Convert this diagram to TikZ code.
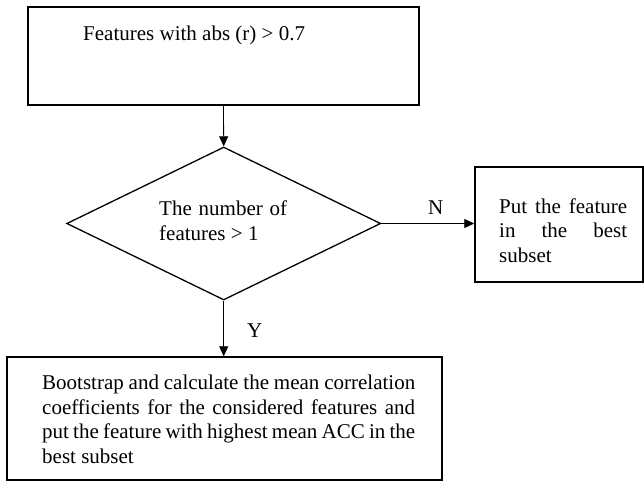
\documentclass[tikz,border=0pt]{standalone}
\usepackage{fontspec}
\setmainfont{Liberation Serif}
\usetikzlibrary{arrows.meta,shapes.geometric}
\tikzset{
  boxshape/.style={draw,line width=1.4pt,inner sep=0pt},
  decshape/.style={draw,diamond,line width=1.3pt,inner sep=0pt},
  txt/.style={inner sep=0pt,align=left,font=\fontsize{21}{24.5}\selectfont},
  arr/.style={draw,line width=0.8pt,-{Triangle[length=10pt,width=9pt]}}
}
\begin{document}
\begin{tikzpicture}[x=1pt,y=-1pt]
\useasboundingbox (0,0) rectangle (644,481);
\node[boxshape,minimum width=391pt,minimum height=98pt] (top) at (223.5,56) {};
\node[txt,anchor=base west] (toptxt) at (83,41) {Features with abs (r) > 0.7};
\node[decshape,minimum width=314pt,minimum height=153pt] (dec) at (223.7,223.5) {};
\node[txt,anchor=base west,font=\fontsize{21}{25}\selectfont] (dectxt) at (159,240) {\makebox[128pt][s]{The number of}\\features > 1};
\node[boxshape,minimum width=168pt,minimum height=115pt] (right) at (559,224.5) {};
\node[txt,anchor=base west] (righttxt) at (499,262) {\makebox[128pt][s]{Put the feature}\\\makebox[128pt][s]{in the best}\\subset};
\node[boxshape,minimum width=435pt,minimum height=123pt] (bot) at (224.5,418.5) {};
\node[txt,anchor=base west] (bottxt) at (42,463) {\makebox[373pt][s]{Bootstrap and calculate the mean correlation}\\\makebox[373pt][s]{coefficients for the considered features and}\\\makebox[373pt][s]{put the feature with highest mean ACC in the}\\best subset};
\node[txt,anchor=base west] (nlab) at (428,214) {N};
\node[txt,anchor=base west] (ylab) at (247,337) {Y};
\draw[arr] (top.south) -- (dec.north);
\draw[arr] (dec.east) -- (dec.east -| right.west);
\draw[arr] (dec.south) -- (dec.south |- bot.north);
\end{tikzpicture}
\end{document}
